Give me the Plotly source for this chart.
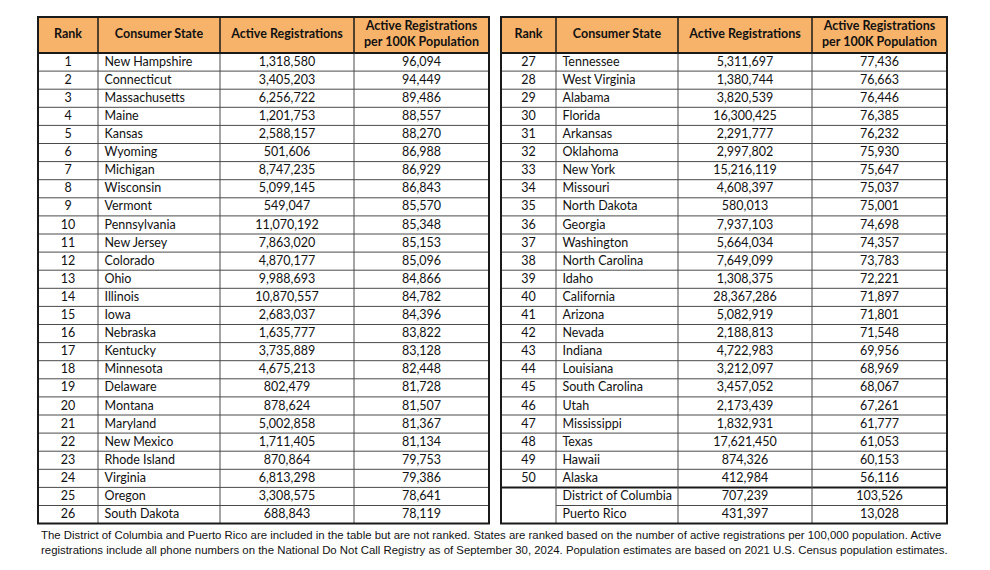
import plotly.graph_objects as go

# ---------------- data ----------------
ranks = ["1", "2", "3", "4", "5", "6", "7", "8", "9", "10", "11", "12", "13",
         "14", "15", "16", "17", "18", "19", "20", "21", "22", "23", "24", "25", "26",
         "27", "28", "29", "30", "31", "32", "33", "34", "35", "36", "37", "38", "39",
         "40", "41", "42", "43", "44", "45", "46", "47", "48", "49", "50", "", ""]
states = ["New Hampshire", "Connecticut", "Massachusetts", "Maine", "Kansas", "Wyoming",
          "Michigan", "Wisconsin", "Vermont", "Pennsylvania", "New Jersey", "Colorado",
          "Ohio", "Illinois", "Iowa", "Nebraska", "Kentucky", "Minnesota", "Delaware",
          "Montana", "Maryland", "New Mexico", "Rhode Island", "Virginia", "Oregon",
          "South Dakota",
          "Tennessee", "West Virginia", "Alabama", "Florida", "Arkansas", "Oklahoma",
          "New York", "Missouri", "North Dakota", "Georgia", "Washington",
          "North Carolina", "Idaho", "California", "Arizona", "Nevada", "Indiana",
          "Louisiana", "South Carolina", "Utah", "Mississippi", "Texas", "Hawaii",
          "Alaska", "District of Columbia", "Puerto Rico"]
active_regs = [1318580, 3405203, 6256722, 1201753, 2588157, 501606, 8747235, 5099145,
               549047, 11070192, 7863020, 4870177, 9988693, 10870557, 2683037, 1635777,
               3735889, 4675213, 802479, 878624, 5002858, 1711405, 870864, 6813298,
               3308575, 688843,
               5311697, 1380744, 3820539, 16300425, 2291777, 2997802, 15216119, 4608397,
               580013, 7937103, 5664034, 7649099, 1308375, 28367286, 5082919, 2188813,
               4722983, 3212097, 3457052, 2173439, 1832931, 17621450, 874326, 412984,
               707239, 431397]
per_100k = [96094, 94449, 89486, 88557, 88270, 86988, 86929, 86843, 85570, 85348,
            85153, 85096, 84866, 84782, 84396, 83822, 83128, 82448, 81728, 81507,
            81367, 81134, 79753, 79386, 78641, 78119,
            77436, 76663, 76446, 76385, 76232, 75930, 75647, 75037, 75001, 74698,
            74357, 73783, 72221, 71897, 71801, 71548, 69956, 68969, 68067, 67261,
            61777, 61053, 60153, 56116, 103526, 13028]
header_labels = ["<b>Rank</b>", "<b>Consumer State</b>", "<b>Active Registrations</b>",
                 "<b>Active Registrations</b><br><b>per 100K Population</b>"]
footnote = ("The District of Columbia and Puerto Rico are included in the table but are not ranked. "
            "States are ranked based on the number of active registrations per 100,000 population. Active<br>"
            "registrations include all phone numbers on the National Do Not Call Registry as of "
            "September 30, 2024. Population estimates are based on 2021 U.S. Census population estimates.")

# ---------------- layout constants (pixel space) ----------------
W, H = 990, 570
PAGE_OFF = 8          # default <body> margin of the html page
TOP = 17
HEAD_H = 36
ROW_H = 18.1
ORANGE = "#F8B36B"
DARK = "#1a1a1a"
GRID = "#4a4a4a"
FONT = "Lato"
FS = 12.5

split = 26
tables = [
    dict(idx=list(range(0, split)), edges=[38, 98, 220, 354, 489]),
    dict(idx=list(range(split, len(states))), edges=[501, 556, 678, 812, 947]),
]

fig = go.Figure()


def hline(x0, x1, y, color, width):
    fig.add_shape(type="line", xref="x", yref="y", x0=x0, x1=x1, y0=y, y1=y,
                  line=dict(color=color, width=width), layer="above")


def vline(x, y0, y1, color, width):
    fig.add_shape(type="line", xref="x", yref="y", x0=x, x1=x, y0=y0, y1=y1,
                  line=dict(color=color, width=width), layer="above")


for t in tables:
    idx, e = t["idx"], t["edges"]
    n = len(idx)
    body_top = TOP + HEAD_H
    bottom = body_top + n * ROW_H
    # header fill
    fig.add_shape(type="rect", xref="x", yref="y", x0=e[0], x1=e[-1], y0=TOP, y1=body_top,
                  fillcolor=ORANGE, line=dict(width=0), layer="below")
    centers = [(e[k] + e[k + 1]) / 2 for k in range(4)]
    # header text
    fig.add_trace(go.Scatter(
        x=centers, y=[TOP + HEAD_H / 2] * 4,
        text=header_labels, mode="text", textposition="middle center",
        textfont=dict(family=FONT, size=FS, color="#111"), hoverinfo="skip",
        showlegend=False))
    ys = [body_top + (r + 0.5) * ROW_H + 0.5 for r in range(n)]
    # rank column
    fig.add_trace(go.Scatter(x=[centers[0]] * n, y=ys, text=[ranks[i] for i in idx],
                             mode="text", textposition="middle center",
                             textfont=dict(family=FONT, size=FS, color="#111"),
                             hoverinfo="skip", showlegend=False))
    # state column (left aligned)
    fig.add_trace(go.Scatter(x=[e[1] + 6.5] * n, y=ys, text=[states[i] for i in idx],
                             mode="text", textposition="middle right",
                             textfont=dict(family=FONT, size=FS, color="#111"),
                             hoverinfo="skip", showlegend=False))
    # numeric columns
    fig.add_trace(go.Scatter(x=[centers[2]] * n, y=ys,
                             text=[f"{active_regs[i]:,}" for i in idx],
                             mode="text", textposition="middle center",
                             textfont=dict(family=FONT, size=FS, color="#111"),
                             hoverinfo="skip", showlegend=False))
    fig.add_trace(go.Scatter(x=[centers[3]] * n, y=ys,
                             text=[f"{per_100k[i]:,}" for i in idx],
                             mode="text", textposition="middle center",
                             textfont=dict(family=FONT, size=FS, color="#111"),
                             hoverinfo="skip", showlegend=False))
    # horizontal grid lines
    for r in range(1, n):
        y = body_top + r * ROW_H
        prev_unranked = ranks[idx[r - 1]] == ""
        this_unranked = ranks[idx[r]] == ""
        if this_unranked and not prev_unranked:
            hline(e[0], e[-1], y, DARK, 2)
        elif this_unranked and prev_unranked:
            hline(e[1], e[-1], y, GRID, 1)  # rank cell merged
        else:
            hline(e[0], e[-1], y, GRID, 1)
    # vertical lines
    for k in range(1, 4):
        vline(e[k], TOP, body_top, DARK, 1.5)
        vline(e[k], body_top, bottom, GRID, 1)
    # header bottom
    hline(e[0], e[-1], body_top, DARK, 2)
    # outer border
    fig.add_shape(type="rect", xref="x", yref="y", x0=e[0], x1=e[-1], y0=TOP, y1=bottom,
                  line=dict(color=DARK, width=2), layer="above")

fig.add_annotation(text=footnote, xref="x", yref="y", x=39, y=527,
                   xanchor="left", yanchor="top", align="left", showarrow=False,
                   font=dict(family="Liberation Sans Narrow, Arial Narrow, sans-serif",
                             size=11.4, color="#111"))

fig.update_layout(width=W, height=H, margin=dict(l=0, r=0, t=0, b=0),
                  paper_bgcolor="white", plot_bgcolor="white",
                  xaxis=dict(range=[PAGE_OFF, W + PAGE_OFF], visible=False, fixedrange=True),
                  yaxis=dict(range=[H + PAGE_OFF, PAGE_OFF], visible=False, fixedrange=True))
fig.write_html("out.html")
